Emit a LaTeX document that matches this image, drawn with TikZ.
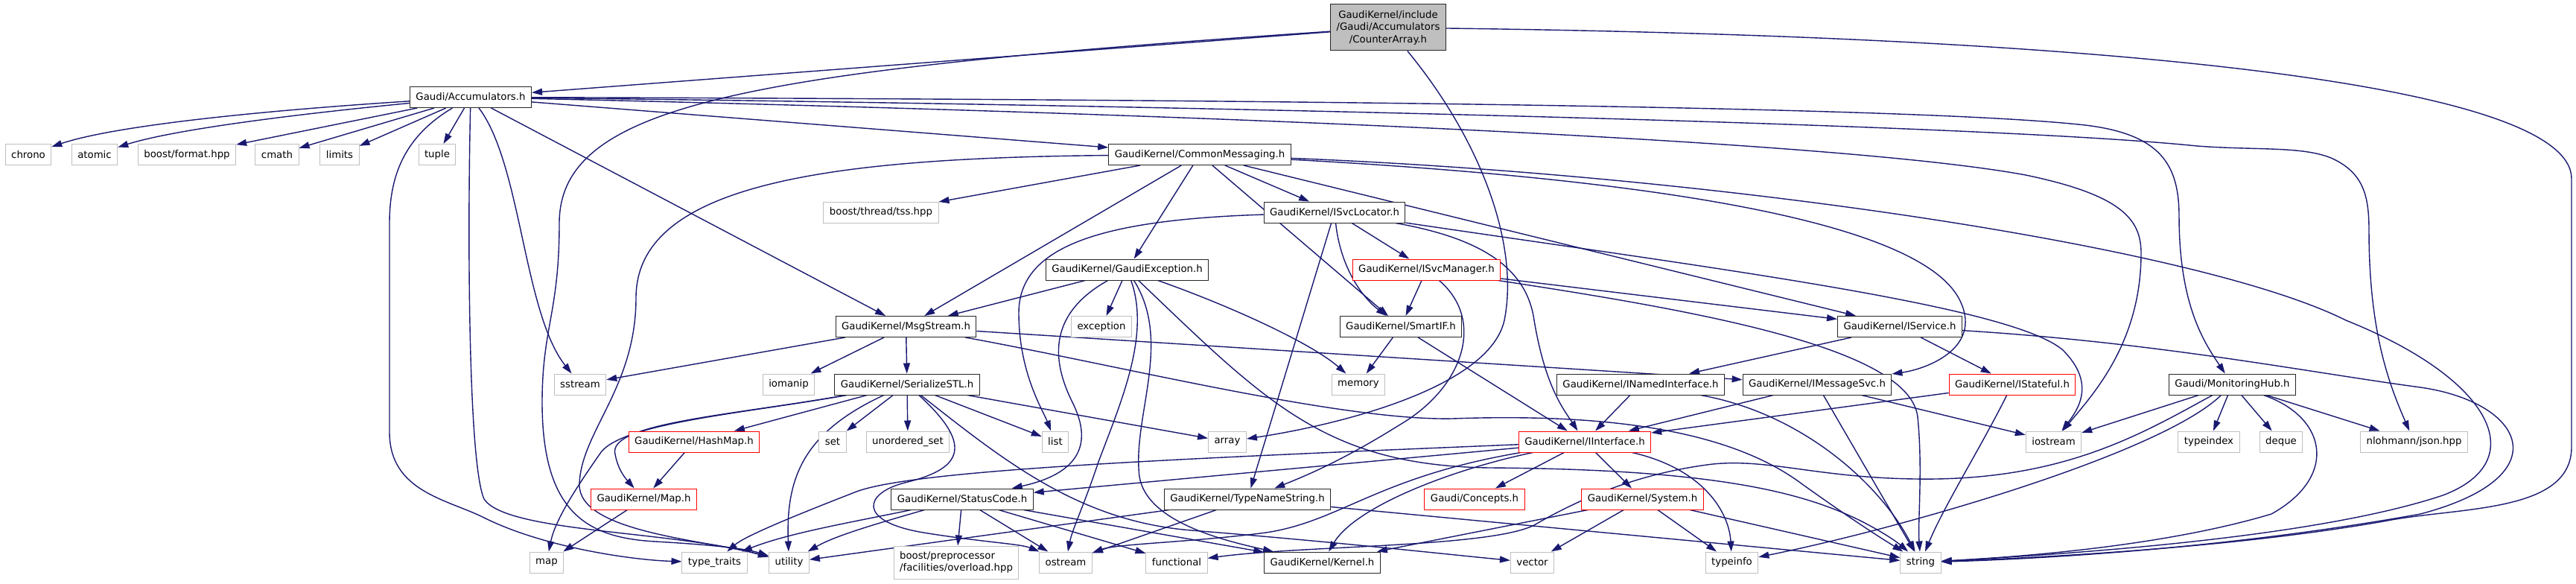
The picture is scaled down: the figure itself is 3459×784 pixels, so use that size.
\documentclass[tikz,border=0pt]{standalone}
\usepackage{fontspec}
\usetikzlibrary{arrows.meta}
\newfontfamily\dejavu{DejaVu Sans}
\definecolor{midnight}{HTML}{191970}
\definecolor{grey75}{HTML}{BFBFBF}
\pgfdeclarelayer{background}
\pgfsetlayers{background,main}
\begin{document}
\begin{tikzpicture}[x=1pt,y=-1pt,
  box/.style={draw,line width=1pt,fill=white,inner xsep=8pt,inner ysep=0pt,minimum height=28pt,
    font=\dejavu\fontsize{13.3}{16.5}\selectfont},
  doc/.style={box,draw=black!85},
  ext/.style={box,draw=grey75},
  trunc/.style={box,draw=red},
  dep/.style={draw=midnight,line width=1.4pt,arrows={-Triangle[length=14pt,width=9pt]}}]
  \useasboundingbox (0,0) rectangle (3459,784);
  % headers
  \node[doc,fill=grey75,align=center,minimum height=62pt] (ca) at (1864,37) {GaudiKernel/include\\/Gaudi/Accumulators\\/CounterArray.h};
  \node[doc] (acc) at (632,130.5) {Gaudi/Accumulators.h};
  \node[doc] (cm) at (1611,207.5) {GaudiKernel/CommonMessaging.h};
  \node[doc] (isl) at (1792,285) {GaudiKernel/ISvcLocator.h};
  \node[doc] (gexc) at (1513.5,362) {GaudiKernel/GaudiException.h};
  \node[trunc] (ism) at (1915.5,362) {GaudiKernel/ISvcManager.h};
  \node[doc] (msg) at (1216.5,438.5) {GaudiKernel/MsgStream.h};
  \node[doc] (smart) at (1881,438.5) {GaudiKernel/SmartIF.h};
  \node[doc] (isrv) at (2551,438.5) {GaudiKernel/IService.h};
  \node[doc] (sstl) at (1218,516) {GaudiKernel/SerializeSTL.h};
  \node[doc] (inamed) at (2203,516) {GaudiKernel/INamedInterface.h};
  \node[doc] (imsg) at (2440,516) {GaudiKernel/IMessageSvc.h};
  \node[trunc] (istate) at (2702,516) {GaudiKernel/IStateful.h};
  \node[doc] (monhub) at (2997.5,516) {Gaudi/MonitoringHub.h};
  \node[trunc] (hashmap) at (932,593) {GaudiKernel/HashMap.h};
  \node[trunc] (iint) at (2128,593) {GaudiKernel/IInterface.h};
  \node[trunc] (maph) at (864.5,670) {GaudiKernel/Map.h};
  \node[doc] (sc) at (1292,670) {GaudiKernel/StatusCode.h};
  \node[doc] (tns) at (1675,670) {GaudiKernel/TypeNameString.h};
  \node[trunc] (concepts) at (1980,670) {Gaudi/Concepts.h};
  \node[trunc] (system) at (2205.5,670) {GaudiKernel/System.h};
  \node[doc] (kernel) at (1775.5,755) {GaudiKernel/Kernel.h};
  % system headers
  \node[ext] (chrono) at (38,207.5) {chrono};
  \node[ext] (atomic) at (127,207.5) {atomic};
  \node[ext] (bformat) at (251,207.5) {boost/format.hpp};
  \node[ext] (cmath) at (372,207.5) {cmath};
  \node[ext] (limits) at (456,207.5) {limits};
  \node[ext] (tuple) at (587,207.5) {tuple};
  \node[ext] (tss) at (1183,285) {boost/thread/tss.hpp};
  \node[ext] (exc) at (1479,438.5) {exception};
  \node[ext] (sstream) at (779,516) {sstream};
  \node[ext] (iomanip) at (1059,516) {iomanip};
  \node[ext] (memory) at (1824,516) {memory};
  \node[ext] (set) at (1118,593) {set};
  \node[ext] (uset) at (1219,593) {unordered\_set};
  \node[ext] (list) at (1417,593) {list};
  \node[ext] (array) at (1648,593) {array};
  \node[ext] (iostream) at (2757.5,593) {iostream};
  \node[ext] (typeindex) at (2966,593) {typeindex};
  \node[ext] (deque) at (3063,593) {deque};
  \node[ext] (json) at (3241.5,593) {nlohmann/json.hpp};
  \node[ext] (map) at (734,755) {map};
  \node[ext] (ttraits) at (959.5,755) {type\_traits};
  \node[ext] (utility) at (1059.5,755) {utility};
  \node[ext,align=left,minimum height=44pt] (overload) at (1284,755) {boost/preprocessor\\/facilities/overload.hpp};
  \node[ext] (ostream) at (1431,755) {ostream};
  \node[ext] (functional) at (1580,755) {functional};
  \node[ext] (vector) at (2057.5,755) {vector};
  \node[ext] (typeinfo) at (2325.5,755) {typeinfo};
  \node[ext] (string) at (2579,755) {string};
  \begin{pgfonlayer}{background}
  % CounterArray.h
  \draw[dep] (ca) -- (acc);
  \draw[dep] (ca) .. controls (1000,95) and (751,140) .. (751,300) .. controls (751,420) and (728,440) .. (728,540) .. controls (728,690) and (790,722) .. (880,727) .. controls (950,731) and (1000,736) .. (utility);
  \draw[dep] (ca) .. controls (1990,190) and (2040,330) .. (2020,430) .. controls (2000,520) and (1800,570) .. (array);
  \draw[dep] (ca) .. controls (2900,50) and (3453,120) .. (3453,240) -- (3453,600) .. controls (3453,690) and (3300,680) .. (3200,700) .. controls (3000,735) and (2750,748) .. (string);
  % Accumulators.h
  \draw[dep] (acc) .. controls (330,150) and (150,170) .. (chrono);
  \draw[dep] (acc) .. controls (380,155) and (230,175) .. (atomic);
  \draw[dep] (acc) -- (bformat);
  \draw[dep] (acc) -- (cmath);
  \draw[dep] (acc) -- (limits);
  \draw[dep] (acc) -- (tuple);
  \draw[dep] (acc) .. controls (540,185) and (523,240) .. (523,300) -- (523,580) .. controls (523,660) and (600,670) .. (650,695) .. controls (730,735) and (850,752) .. (ttraits);
  \draw[dep] (acc) .. controls (628,300) and (628,620) .. (650,670) .. controls (680,715) and (900,712) .. (utility);
  \draw[dep] (acc) .. controls (700,220) and (703,420) .. (sstream);
  \draw[dep] (acc) -- (msg);
  \draw[dep] (acc) -- (cm);
  \draw[dep] (acc) .. controls (1500,133) and (2550,140) .. (2800,168) .. controls (2900,180) and (2926,220) .. (2926,290) .. controls (2926,410) and (2960,460) .. (monhub);
  \draw[dep] (acc) .. controls (1500,140) and (2650,165) .. (2950,196) .. controls (3030,202) and (3090,196) .. (3130,212) .. controls (3175,232) and (3181,265) .. (3181,310) .. controls (3181,450) and (3210,520) .. (json);
  \draw[dep] (acc) .. controls (1500,150) and (2450,185) .. (2720,235) .. controls (2850,262) and (2875,295) .. (2875,340) .. controls (2875,460) and (2810,530) .. (iostream);
  % CommonMessaging.h
  \draw[dep] (cm) -- (tss);
  \draw[dep] (cm) -- (msg);
  \draw[dep] (cm) -- (gexc);
  \draw[dep] (cm) -- (smart);
  \draw[dep] (cm) -- (isl);
  \draw[dep] (cm) -- (isrv);
  \draw[dep] (cm) .. controls (2300,245) and (2580,310) .. (2630,400) .. controls (2665,465) and (2590,495) .. (imsg);
  \draw[dep] (cm) .. controls (2300,235) and (2950,330) .. (3150,430) .. controls (3350,510) and (3400,620) .. (3280,665) .. controls (3100,725) and (2750,745) .. (string);
  \draw[dep] (cm) .. controls (1100,212) and (854,250) .. (854,400) .. controls (854,520) and (780,580) .. (778,650) .. controls (776,715) and (950,725) .. (utility);
  % ISvcLocator.h
  \draw[dep] (isl) .. controls (1480,295) and (1368,330) .. (1368,420) .. controls (1368,500) and (1400,550) .. (list);
  \draw[dep] (isl) -- (tns);
  \draw[dep] (isl) .. controls (1800,360) and (1830,400) .. (smart);
  \draw[dep] (isl) -- (ism);
  \draw[dep] (isl) .. controls (1990,320) and (2050,360) .. (2060,430) .. controls (2075,520) and (2100,550) .. (iint);
  \draw[dep] (isl) .. controls (2300,360) and (2700,410) .. (2770,470) .. controls (2815,515) and (2790,550) .. (iostream);
  % GaudiException.h
  \draw[dep] (gexc) -- (msg);
  \draw[dep] (gexc) .. controls (1410,420) and (1410,480) .. (1440,540) .. controls (1475,610) and (1430,640) .. (sc);
  \draw[dep] (gexc) -- (exc);
  \draw[dep] (gexc) .. controls (1545,450) and (1505,540) .. (1475,620) .. controls (1455,680) and (1440,710) .. (ostream);
  \draw[dep] (gexc) .. controls (1575,460) and (1520,560) .. (1530,640) .. controls (1540,700) and (1640,725) .. (kernel);
  \draw[dep] (gexc) .. controls (1650,410) and (1760,460) .. (memory);
  \draw[dep] (gexc) .. controls (1700,540) and (1780,625) .. (2000,628) .. controls (2300,630) and (2420,660) .. (2500,700) .. controls (2535,718) and (2550,730) .. (string);
  % ISvcManager.h
  \draw[dep] (ism) -- (smart);
  \draw[dep] (ism) .. controls (1995,430) and (1965,520) .. (1880,570) .. controls (1800,620) and (1750,640) .. (tns);
  \draw[dep] (ism) -- (isrv);
  \draw[dep] (ism) .. controls (2300,420) and (2565,470) .. (2575,560) .. controls (2582,630) and (2575,700) .. (string);
  % SmartIF.h, MsgStream.h
  \draw[dep] (smart) -- (memory);
  \draw[dep] (smart) -- (iint);
  \draw[dep] (msg) -- (sstream);
  \draw[dep] (msg) -- (iomanip);
  \draw[dep] (msg) -- (sstl);
  \draw[dep] (msg) -- (imsg);
  \draw[dep] (msg) .. controls (1500,490) and (1800,565) .. (1950,562) .. controls (2150,555) and (2320,575) .. (2420,650) .. controls (2490,700) and (2530,725) .. (string);
  % SerializeSTL.h
  \draw[dep] (sstl) .. controls (1000,555) and (830,568) .. (805,610) .. controls (770,660) and (745,700) .. (map);
  \draw[dep] (sstl) .. controls (980,558) and (815,568) .. (826,610) .. controls (830,630) and (838,640) .. (maph);
  \draw[dep] (sstl) -- (hashmap);
  \draw[dep] (sstl) .. controls (1080,580) and (1055,640) .. (utility);
  \draw[dep] (sstl) -- (set);
  \draw[dep] (sstl) -- (uset);
  \draw[dep] (sstl) -- (list);
  \draw[dep] (sstl) -- (array);
  \draw[dep] (sstl) .. controls (1310,600) and (1290,630) .. (1215,648) .. controls (1160,662) and (1150,700) .. (1240,715) .. controls (1320,728) and (1370,730) .. (ostream);
  \draw[dep] (sstl) .. controls (1350,620) and (1450,700) .. (1600,712) .. controls (1800,728) and (1950,745) .. (vector);
  \draw[dep] (hashmap) -- (maph);
  \draw[dep] (maph) -- (map);
  % StatusCode.h, TypeNameString.h
  \draw[dep] (sc) .. controls (1150,700) and (1060,715) .. (ttraits);
  \draw[dep] (sc) .. controls (1170,705) and (1120,720) .. (utility);
  \draw[dep] (sc) -- (overload);
  \draw[dep] (sc) -- (ostream);
  \draw[dep] (sc) -- (functional);
  \draw[dep] (sc) -- (kernel);
  \draw[dep] (tns) -- (ostream);
  \draw[dep] (tns) -- (utility);
  \draw[dep] (tns) -- (string);
  % IInterface.h, System.h
  \draw[dep] (iint) -- (sc);
  \draw[dep] (iint) .. controls (1600,615) and (1230,630) .. (1150,660) .. controls (1060,695) and (1000,720) .. (ttraits);
  \draw[dep] (iint) .. controls (1950,630) and (1820,680) .. (kernel);
  \draw[dep] (iint) .. controls (1850,640) and (1800,700) .. (1700,715) .. controls (1600,728) and (1500,730) .. (ostream);
  \draw[dep] (iint) -- (concepts);
  \draw[dep] (iint) -- (system);
  \draw[dep] (iint) .. controls (2290,630) and (2322,690) .. (typeinfo);
  \draw[dep] (system) -- (kernel);
  \draw[dep] (system) -- (vector);
  \draw[dep] (system) -- (typeinfo);
  \draw[dep] (system) -- (string);
  % interfaces
  \draw[dep] (inamed) -- (iint);
  \draw[dep] (inamed) .. controls (2420,555) and (2525,650) .. (string);
  \draw[dep] (imsg) -- (iint);
  \draw[dep] (imsg) -- (string);
  \draw[dep] (imsg) -- (iostream);
  \draw[dep] (istate) -- (iint);
  \draw[dep] (istate) .. controls (2660,600) and (2610,680) .. (string);
  \draw[dep] (isrv) -- (inamed);
  \draw[dep] (isrv) -- (istate);
  \draw[dep] (isrv) .. controls (2900,460) and (3100,500) .. (3250,520) .. controls (3390,540) and (3440,640) .. (3250,690) .. controls (3000,735) and (2750,750) .. (string);
  % MonitoringHub.h
  \draw[dep] (monhub) -- (iostream);
  \draw[dep] (monhub) -- (typeindex);
  \draw[dep] (monhub) -- (deque);
  \draw[dep] (monhub) -- (json);
  \draw[dep] (monhub) .. controls (2880,580) and (2780,640) .. (2600,643) .. controls (2450,645) and (2380,615) .. (2300,623) .. controls (2200,635) and (2120,670) .. (2060,705) .. controls (2000,735) and (1750,732) .. (functional);
  \draw[dep] (monhub) .. controls (2900,610) and (2550,710) .. (typeinfo);
  \draw[dep] (monhub) .. controls (3125,560) and (3140,640) .. (3050,690) .. controls (2900,735) and (2700,748) .. (string);
  \end{pgfonlayer}
\end{tikzpicture}
\end{document}
